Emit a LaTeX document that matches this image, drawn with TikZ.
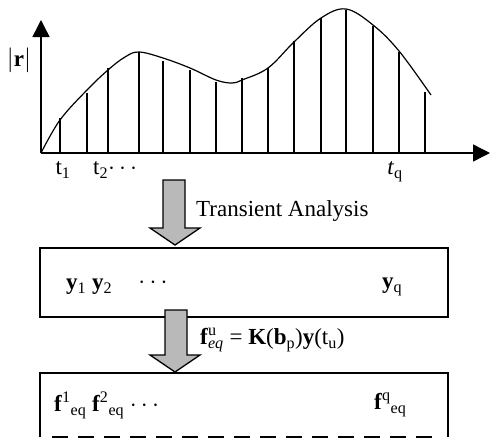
\documentclass[tikz,border=0pt]{standalone}
\usepackage{fontspec}
\setmainfont{Liberation Serif}
\usetikzlibrary{arrows.meta}
\tikzset{
  axisline/.style={line width=1.4pt,-{Triangle[length=17pt,width=17pt]}},
  curveline/.style={line width=1.2pt},
  sampleline/.style={line width=1.2pt},
  boxline/.style={line width=1.2pt},
  blockarrow/.style={draw=black,line width=1.3pt,fill=gray!55},
  lbl/.style={font=\fontsize{23}{26}\selectfont,inner sep=0pt},
}
\begin{document}
\begin{tikzpicture}[x=1pt,y=-1pt]
\useasboundingbox (0,0) rectangle (497,439);
% axes
\coordinate (O) at (41,153);
\draw[axisline] (O) -- (41,20);
\draw[axisline] (O) -- (490,153);
\node[lbl] (r) at (19,60) {$|$\textbf{r}$|$};
% curve
\draw[curveline] plot[smooth,tension=0.6] coordinates {(41,153) (60,120) (87,90) (108,70) (125,57) (139,52) (163,58) (190,68) (216,80) (232,83) (242,80) (268,68) (294,42) (321,18) (346,9) (373,25) (399,51) (431,95)};
% sample lines
\foreach \x/\y in {60/118, 87/93, 108/68, 139/52, 163/61, 190/70, 216/82, 242/78, 268/68, 294/41, 321/18, 346/10, 373/26, 399/52, 425/92}
  \draw[sampleline] (\x,153) -- (\x,\y);
% time labels
\node[lbl] (t1) at (63,170) {t\textsubscript{1}};
\node[lbl,anchor=west] (t2) at (93,170) {t\textsubscript{2}$\cdots$};
\node[lbl] (tq) at (395,172) {\textit{t}\textsubscript{q}};
% arrow 1
\draw[blockarrow] (163,180) -- (185,180) -- (185,228) -- (200,228) -- (175,245) -- (150,228) -- (163,228) -- cycle;
\node[lbl,anchor=west] (ta) at (196,211) {Transient Analysis};
% box 1
\draw[boxline] (40,248) rectangle (448,317);
\node[lbl,anchor=west] (y12) at (66,287) {\textbf{y}\textsubscript{1} \textbf{y}\textsubscript{2}};
\node[lbl] (yd) at (153,283) {$\cdots$};
\node[lbl,anchor=west] (yq) at (382,287) {\textbf{y}\textsubscript{q}};
% arrow 2
\draw[blockarrow] (165,310) -- (187,310) -- (187,355) -- (200,355) -- (175,372) -- (150,355) -- (165,355) -- cycle;
\node[lbl,anchor=west] (eq) at (200,340) {\textbf{f}\rlap{\textsuperscript{u}}\textsubscript{\itshape eq} = \textbf{K}(\textbf{b}\textsubscript{p})\textbf{y}(t\textsubscript{u})};
% box 2
\draw[boxline] (40,437) -- (40,373) -- (448,373) -- (448,437);
\draw[boxline,dash pattern=on 16pt off 10pt] (52,437) -- (440,437);
\node[lbl,anchor=west] (f12) at (54,405) {\textbf{f}\textsuperscript{1}\textsubscript{eq} \textbf{f}\textsuperscript{2}\textsubscript{eq} $\cdots$};
\node[lbl,anchor=west] (fq) at (374,405) {\textbf{f}\textsuperscript{q}\textsubscript{eq}};
\end{tikzpicture}
\end{document}
